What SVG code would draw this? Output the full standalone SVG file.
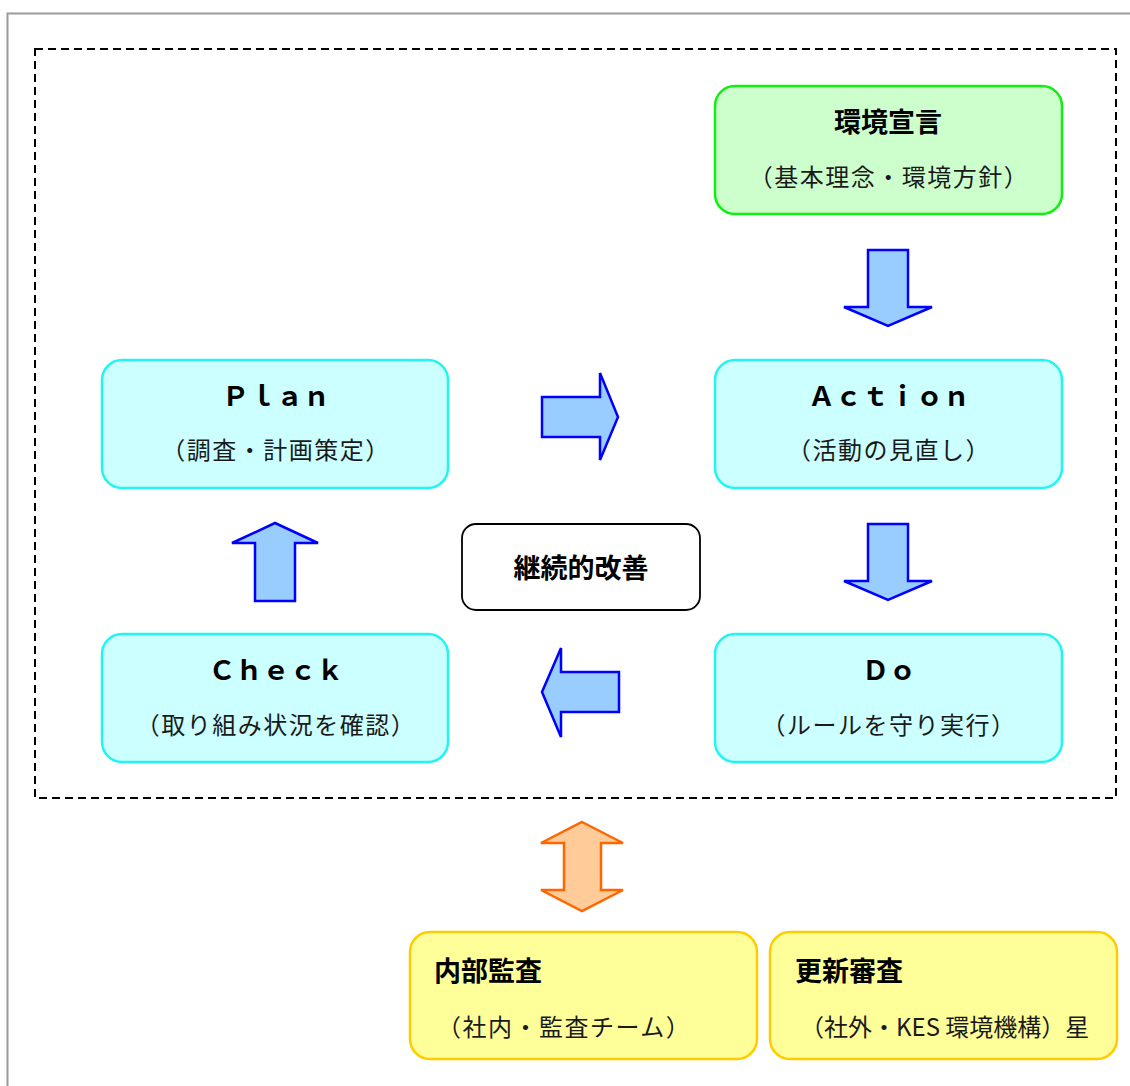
<svg xmlns="http://www.w3.org/2000/svg" width="1130" height="1086" viewBox="0 0 1130 1086">
<style>
.frame{fill:none;stroke:#9a9a9a;stroke-width:2}
.dash{fill:none;stroke:#000;stroke-width:2;stroke-dasharray:8 5}
.cyan{fill:#ccffff;stroke:#22f4f4;stroke-width:2.5}
.green{fill:#ccffcc;stroke:#11ee11;stroke-width:2.5}
.yellow{fill:#ffff99;stroke:#ffcc00;stroke-width:2.5}
.plain{fill:#fff;stroke:#000;stroke-width:1.8}
.barrow{fill:#99ccff;stroke:#0000ff;stroke-width:2.5;stroke-linejoin:miter}
.oarrow{fill:#ffcc99;stroke:#ff6600;stroke-width:2.5}
.t{font-family:"Noto Sans CJK JP","Liberation Sans",sans-serif;font-weight:bold;font-size:27px;fill:#000}
.lt{font-family:"Noto Sans CJK JP","Liberation Sans",sans-serif;font-weight:bold;font-size:27px;fill:#000}
.s{font-family:"Noto Sans CJK JP","Liberation Serif",serif;font-weight:normal;font-size:24px;letter-spacing:1.5px;fill:#1a1a1a}
.c{text-anchor:middle}
</style>
<rect class="frame" x="7.5" y="13.5" width="1200" height="1200"/>
<rect class="dash" x="35" y="49" width="1081" height="749"/>

<g id="connectors">
  <polygon class="barrow" points="868,250 908,250 908,307 932,307 888,326 844,307 868,307"/>
  <polygon class="barrow" points="542,397 600,397 600,373 618,417 600,460 600,437 542,437"/>
  <polygon class="barrow" points="868,524 908,524 908,581 932,581 888,600 844,581 868,581"/>
  <polygon class="barrow" points="619,672 561,672 561,648 542,692 561,737 561,712 619,712"/>
  <polygon class="barrow" points="255,601 255,543 232,543 275,523 318,543 295,543 295,601"/>
  <polygon class="oarrow" points="582,822 623,843 601,843 601,890 623,890 582,911 541,890 564,890 564,843 541,843"/>
</g>

<g id="node-sengen">
  <rect class="green" x="715" y="86" width="347" height="128" rx="20"/>
  <text class="t c" x="888" y="132">環境宣言</text>
  <text class="s c" x="889" y="186">（基本理念・環境方針）</text>
</g>
<g id="node-plan">
  <rect class="cyan" x="102" y="360" width="346" height="128" rx="20"/>
  <text class="lt c" x="276" y="406">Ｐｌａｎ</text>
  <text class="s c" x="276" y="459">（調査・計画策定）</text>
</g>
<g id="node-action">
  <rect class="cyan" x="715" y="360" width="347" height="128" rx="20"/>
  <text class="lt c" x="889" y="406">Ａｃｔｉｏｎ</text>
  <text class="s c" x="889" y="459">（活動の見直し）</text>
</g>
<g id="node-kaizen">
  <rect class="plain" x="462" y="524" width="238" height="86" rx="14"/>
  <text class="t c" x="581" y="578">継続的改善</text>
</g>
<g id="node-check">
  <rect class="cyan" x="102" y="634" width="346" height="128" rx="20"/>
  <text class="lt c" x="276" y="680">Ｃｈｅｃｋ</text>
  <text class="s c" x="276" y="734">（取り組み状況を確認）</text>
</g>
<g id="node-do">
  <rect class="cyan" x="715" y="634" width="347" height="128" rx="20"/>
  <text class="lt c" x="889" y="680">Ｄｏ</text>
  <text class="s c" x="889" y="734">（ルールを守り実行）</text>
</g>
<g id="node-naibu">
  <rect class="yellow" x="410" y="932" width="347" height="127" rx="20"/>
  <text class="t" x="434" y="981">内部監査</text>
  <text class="s" x="437" y="1036">（社内・監査チーム）</text>
</g>
<g id="node-koshin">
  <rect class="yellow" x="770" y="932" width="347" height="127" rx="20"/>
  <text class="t" x="795" y="981">更新審査</text>
  <text class="s" x="800" y="1036" style="letter-spacing:0">（社外・KES 環境機構）星</text>
</g>
</svg>
